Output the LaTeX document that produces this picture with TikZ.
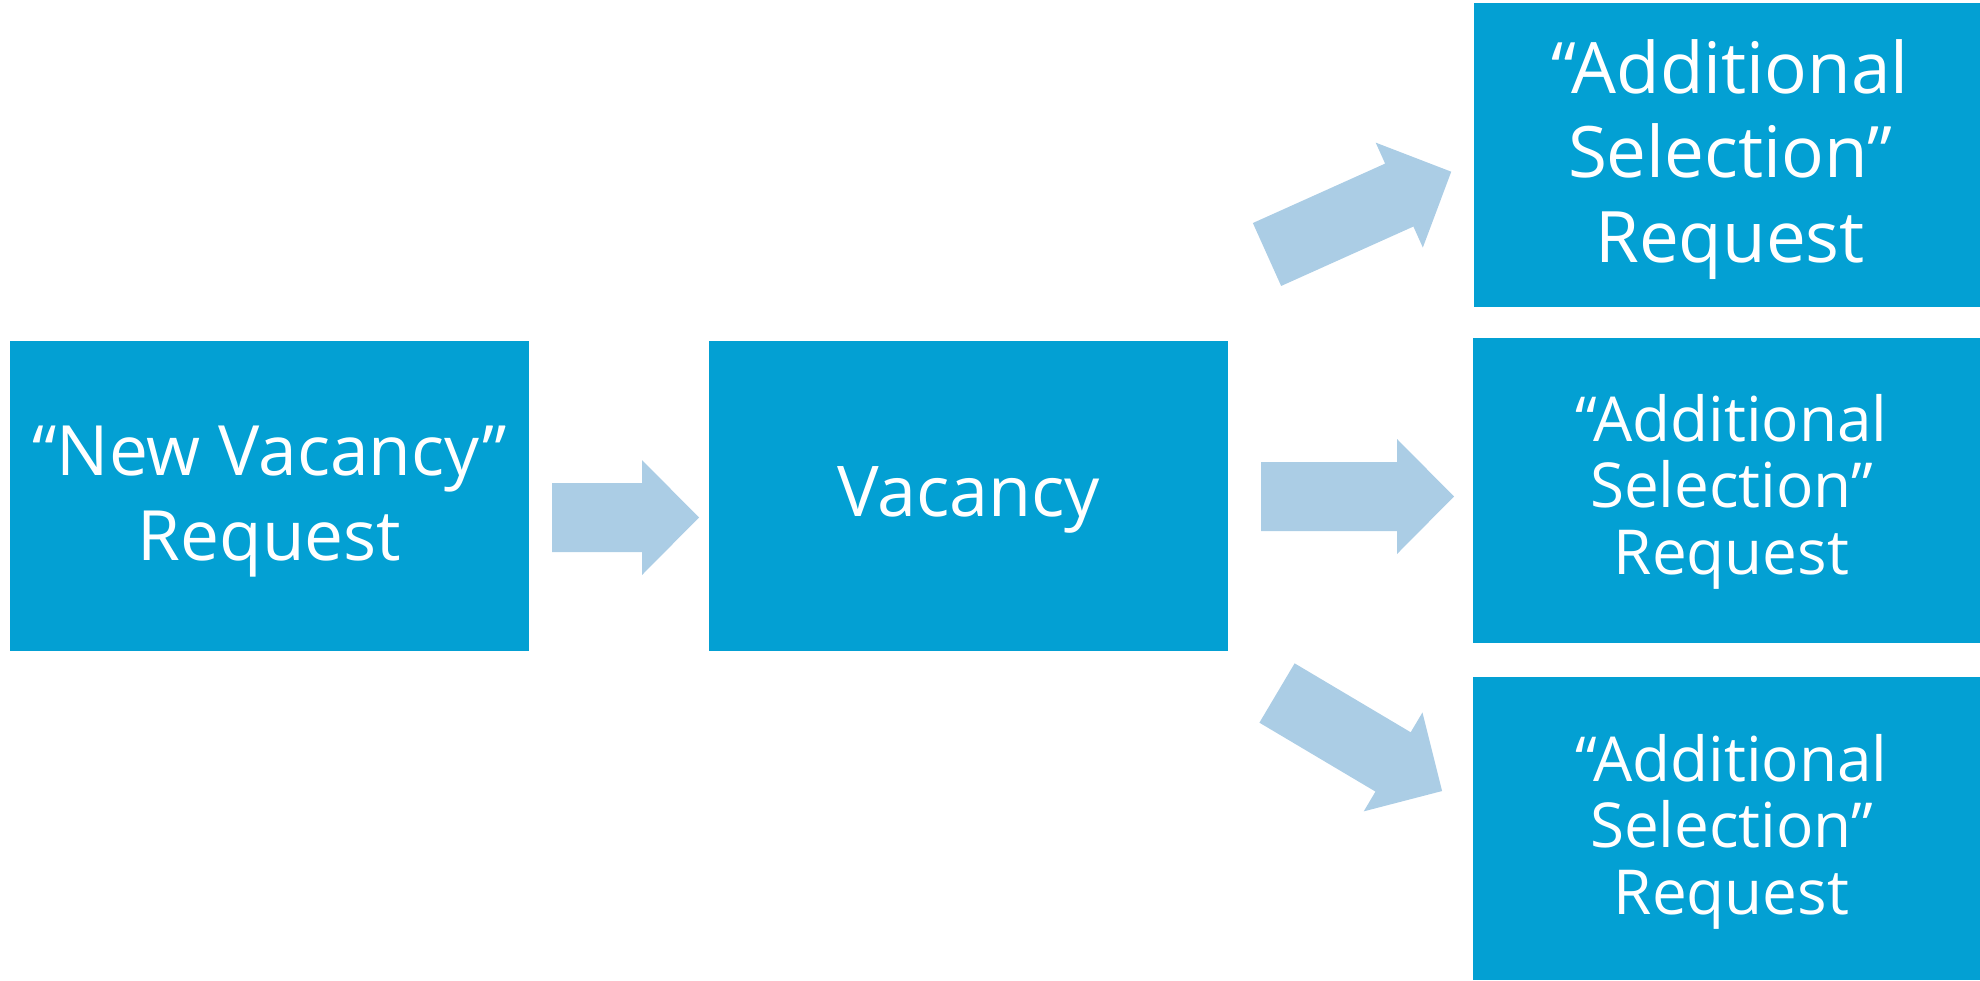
\documentclass[tikz,border=0pt]{standalone}
\usepackage{fontspec}
\setmainfont{Open Sans}
\definecolor{boxblue}{HTML}{03A0D3}
\definecolor{arrowblue}{HTML}{ABCDE5}
\tikzset{
  box/.style={rectangle, fill=boxblue, draw=none, inner sep=0pt},
  boxtext/.style={text=white, align=center, inner sep=0pt},
  blockarrow/.pic={
    \fill[arrowblue] (0,-34.5) -- (#1-57,-34.5) -- (#1-57,-57.5) -- (#1,0)
      -- (#1-57,57.5) -- (#1-57,34.5) -- (0,34.5) -- cycle;
  }
}
\begin{document}
\begin{tikzpicture}[x=0.5pt,y=-0.5pt]
\useasboundingbox (0,0) rectangle (1980,980);
\node[box, minimum width=259.5pt, minimum height=155pt] (b1) at (269.5,496) {};
\node[box, minimum width=259.5pt, minimum height=155pt] (b2) at (968.5,496) {};
\node[box, minimum width=253pt, minimum height=152pt] (b3) at (1727,155) {};
\node[box, minimum width=253.5pt, minimum height=152.5pt] (b4) at (1726.5,490.5) {};
\node[box, minimum width=253.5pt, minimum height=151.5pt] (b5) at (1726.5,828.5) {};
\node[boxtext, font=\fontsize{34.7}{42.5}\selectfont, yshift=-3pt] (t1) at (b1) {“New Vacancy”\\Request};
\node[boxtext, font=\fontsize{35}{42}\selectfont, yshift=-2pt] (t2) at (b2) {Vacancy};
\node[boxtext, font=\fontsize{35.5}{42.25}\selectfont, xshift=1.5pt, yshift=-2.15pt] (t3) at (b3) {“Additional\\Selection”\\Request};
\node[boxtext, font=\fontsize{31}{33.25}\selectfont, xshift=2.5pt, yshift=-0.65pt] (t4) at (b4) {“Additional\\Selection”\\Request};
\node[boxtext, font=\fontsize{31}{33.25}\selectfont, xshift=2.5pt, yshift=-1.65pt] (t5) at (b5) {“Additional\\Selection”\\Request};
\coordinate (a1) at (552,517.5);
\coordinate (a2) at (1261,496.5);
\coordinate (a3) at (1267,254.5);
\coordinate (a4) at (1277,693);
\pic at (a1) {blockarrow=147};
\pic at (a2) {blockarrow=193};
\pic[rotate=24.2] at (a3) {blockarrow=202};
\pic[rotate=-30.7] at (a4) {blockarrow=192};
\end{tikzpicture}
\end{document}
